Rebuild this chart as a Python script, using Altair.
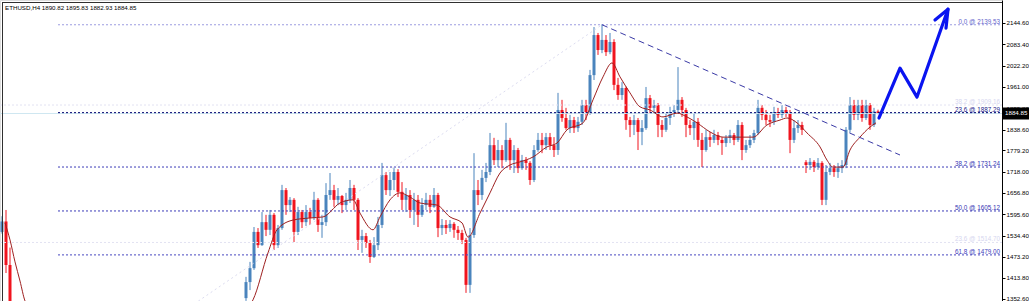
import altair as alt
import pandas as pd

SYMBOL = "ETHUSD,H4"
FONT = "Liberation Sans"

# ---- candles (H4), index = bar position ----
left_start = 0
left_close = [1575, 1450, 1330]
left_high = [1590, 1608, 1500]
left_low = [1540, 1427, 1300]

main_start = 61
main_close = [
    1401, 1441, 1545, 1507, 1573, 1551, 1594, 1507, 1556, 1665,
    1622, 1637, 1545, 1602, 1573, 1602, 1585, 1637, 1565, 1573,
    1651, 1665, 1637, 1648, 1622, 1637, 1671, 1637, 1522, 1533,
    1513, 1473, 1507, 1565, 1708, 1665, 1694, 1717, 1660, 1637,
    1651, 1608, 1637, 1594, 1622, 1637, 1617, 1651, 1556, 1565,
    1556, 1568, 1551, 1542, 1522, 1393, 1536, 1665, 1651, 1700,
    1717, 1794, 1751, 1780, 1751, 1809, 1751, 1780, 1728, 1751,
    1743, 1694, 1780, 1809, 1794, 1817, 1794, 1780, 1895, 1872,
    1843, 1866, 1843, 1861, 1909, 1889, 1995, 2110, 2067, 2096,
    2061, 2090, 1967, 1938, 1958, 1866, 1852, 1866, 1832, 1843,
    1929, 1901, 1909, 1852, 1838, 1872, 1889, 1895, 1924, 1895,
    1852, 1843, 1861, 1809, 1780, 1817, 1809, 1823, 1809, 1800,
    1815, 1823, 1809, 1852, 1780, 1794, 1809, 1829, 1901, 1881,
    1866, 1861, 1889, 1881, 1895, 1886, 1809, 1843, 1852, 1838,
    1737, 1746, 1731, 1743, 1637, 1717, 1728, 1717, 1728, 1737,
    1838, 1909, 1881, 1909, 1872, 1909, 1852, 1890.82, 1884.85]
main_high = [
    1416, 1459, 1559, 1556, 1602, 1594, 1608, 1599, 1565, 1680,
    1671, 1645, 1642, 1617, 1608, 1622, 1614, 1660, 1642, 1594,
    1685, 1714, 1680, 1671, 1651, 1657, 1694, 1680, 1642, 1551,
    1542, 1522, 1530, 1588, 1743, 1717, 1717, 1728, 1725, 1688,
    1671, 1665, 1657, 1651, 1642, 1657, 1651, 1671, 1657, 1582,
    1579, 1579, 1573, 1562, 1551, 1528, 1556, 1771, 1694, 1723,
    1743, 1829, 1815, 1809, 1794, 1858, 1815, 1794, 1786, 1766,
    1760, 1748, 1794, 1829, 1829, 1829, 1829, 1817, 1944, 1924,
    1901, 1881, 1875, 1875, 1924, 1924, 2010, 2133, 2116, 2141,
    2110, 2116, 2098, 1987, 1975, 1962, 1875, 1881, 1872, 1866,
    1961, 1938, 1924, 1915, 1866, 1886, 1904, 1909, 2018, 1932,
    1901, 1866, 1886, 1872, 1829, 1838, 1832, 1838, 1832, 1817,
    1823, 1838, 1829, 1866, 1860, 1809, 1823, 1838, 1924, 1909,
    1895, 1881, 1904, 1901, 1909, 1904, 1895, 1866, 1866, 1861,
    1751, 1757, 1751, 1757, 1748, 1737, 1743, 1737, 1743, 1751,
    1846, 1932, 1924, 1924, 1924, 1924, 1915, 1901, 1895.83]
main_low = [
    1347, 1378, 1436, 1499, 1505, 1533, 1536, 1493, 1499, 1551,
    1594, 1602, 1516, 1536, 1556, 1562, 1565, 1579, 1545, 1528,
    1562, 1637, 1617, 1622, 1599, 1608, 1628, 1608, 1493, 1485,
    1499, 1456, 1470, 1493, 1556, 1651, 1648, 1665, 1645, 1608,
    1602, 1585, 1565, 1559, 1588, 1608, 1599, 1614, 1530, 1536,
    1539, 1545, 1528, 1522, 1510, 1370, 1370, 1528, 1622, 1637,
    1688, 1708, 1737, 1731, 1728, 1746, 1723, 1714, 1714, 1723,
    1723, 1680, 1688, 1775, 1771, 1780, 1780, 1760, 1766, 1861,
    1838, 1829, 1829, 1832, 1852, 1866, 1881, 1981, 2053, 2058,
    2050, 2055, 1952, 1924, 1924, 1838, 1817, 1823, 1780, 1794,
    1838, 1886, 1886, 1817, 1817, 1832, 1852, 1875, 1886, 1875,
    1817, 1823, 1809, 1789, 1731, 1775, 1789, 1800, 1794, 1766,
    1789, 1800, 1794, 1803, 1751, 1772, 1786, 1800, 1823, 1866,
    1852, 1846, 1852, 1872, 1872, 1875, 1771, 1800, 1829, 1823,
    1714, 1723, 1717, 1723, 1622, 1622, 1708, 1703, 1700, 1714,
    1728, 1830, 1866, 1866, 1861, 1866, 1838, 1846, 1882.93]
# opens where the bar does not open at the previous close (start of a series / gap)
gap_opens = {0: 1545, 61: 1355, 201: 1745}

# ---- moving average ----
ma_idx = [0.75, 2, 3.25, 4.5, 5.75, 9.5, 19.5, 34.5, 49.5, 59.5, 62.75, 66.5, 68.75,
          72.75, 77, 80.25, 84.5, 87.75, 89.5, 92.75, 94.5, 97, 99.5, 102, 104.5,
          108.75, 112, 115, 116.5, 119.5, 122, 124.5, 127, 129.5, 132.75, 136.25,
          138.75, 141.25, 145.25, 147.75, 150.25, 152.5, 154.5, 157, 159.5, 162,
          165.25, 168.75, 171.25, 173.75, 177, 180.25, 184.5, 187.75, 191.25, 194.5,
          196.25, 198.75, 201.25, 204.5, 206.25, 207.75, 210.25, 212, 214.5, 217, 218.5]
ma_val = [1571, 1522, 1459, 1404, 1347, 1290, 1240, 1225, 1255, 1310, 1350, 1485, 1551,
          1579, 1585, 1588, 1628, 1637, 1599, 1551, 1588, 1637, 1657, 1645, 1628,
          1622, 1588, 1571, 1530, 1599, 1657, 1714, 1737, 1746, 1760, 1789,
          1800, 1838, 1858, 1924, 1990, 2030, 1990, 1944, 1904, 1895,
          1875, 1886, 1875, 1858, 1832, 1817, 1817, 1817, 1852, 1866,
          1872, 1858, 1829, 1789, 1751, 1731, 1731, 1780, 1817, 1846, 1858]

# ---- Fibonacci objects ----
fib_start = 14
fib_levels = [2139.53, 1887.29, 1731.24, 1605.12, 1479.00]
fib_pct = ["0.0", "23.6", "38.2", "50.0", "61.8"]
fib_line_col = ["#9c9ce0", "#00006e", "#3c3cb8", "#3c3cb8", "#4848c0"]
fib_text_col = ["#6464cc", "#1a1a8a", "#3434b4", "#3434b4", "#3c3cbc"]
faint_levels = [1909.16, 1514.70]
faint_pct = ["38.2", "23.6"]
diag_idx = [14, 150]
diag_val = [1070.7, 2139.53]

# ---- trend line & hand-drawn arrow ----
trend_idx = [150, 224.5]
trend_val = [2139.53, 1765.7]
arrow_idx = [219.25, 224.5, 228.75, 236.5]
arrow_val = [1872, 2015, 1932, 2184]
head_idx = [233.25, 236.5, 236.0]
head_val = [2153, 2184, 2130]

bid = 1884.85
tick_vals = [2144.60, 2083.40, 2022.20, 1961.00, 1899.80, 1838.60, 1779.20, 1718.00,
             1656.80, 1595.60, 1534.40, 1473.20, 1413.80, 1352.60]

UP = "#4a84bd"
DOWN = "#f0141e"

# ---- build candle table ----
rows = []
for start, cl, hi, lo in [(left_start, left_close, left_high, left_low),
                          (main_start, main_close, main_high, main_low)]:
    prev = None
    for j, (c, h, l) in enumerate(zip(cl, hi, lo)):
        k = start + j
        o = gap_opens.get(k, prev)
        rows.append({"i": k, "open": o, "close": c, "high": h, "low": l,
                     "col": UP if c >= o else DOWN})
        prev = c
candles = pd.DataFrame(rows)
last = rows[-1]
header = f"{SYMBOL}  {last['open']:.2f} {last['high']:.2f} {last['low']:.2f} {last['close']:.2f}"

x_scale = alt.Scale(domain=[-0.5, 250], nice=False, zero=False)
y_scale = alt.Scale(domain=[1346.7, 2210.6], nice=False, zero=False)
y_axis = alt.Axis(orient="right", values=tick_vals, format=".2f", title=None,
                  grid=False, domainColor="#000000", domainWidth=1,
                  tickColor="#000000", tickSize=3, labelFont=FONT,
                  labelFontSize=6.2, labelColor="#000000", labelPadding=1,
                  labelOverlap=False, labelBound=False, zindex=0)
X = lambda f: alt.X(f, type="quantitative", scale=x_scale, axis=None)
Y = lambda f: alt.Y(f, type="quantitative", scale=y_scale, axis=y_axis)

wick = alt.Chart(candles).mark_rule(strokeWidth=1, clip=True).encode(
    x=X("i"), y=Y("low"), y2="high:Q", color=alt.Color("col:N", scale=None))
body = alt.Chart(candles).mark_rule(strokeWidth=3, clip=True).encode(
    x=X("i"), y=Y("open"), y2="close:Q", color=alt.Color("col:N", scale=None))

ma_df = pd.DataFrame({"i": ma_idx, "v": ma_val})
ma = alt.Chart(ma_df).mark_line(color="#9e2020", strokeWidth=1, clip=True,
                                interpolate="monotone").encode(x=X("i"), y=Y("v"))

one = pd.DataFrame({"p": [bid]})
bidline = alt.Chart(one).mark_rule(color="#cfe7f1", strokeWidth=1).encode(
    x=alt.value(0), x2=alt.value(1002), y=Y("p"))

faint_df = pd.DataFrame({"v": faint_levels,
                         "t": [f"{p} @ {v:.2f}" for p, v in zip(faint_pct, faint_levels)]})
faint = alt.Chart(faint_df).mark_rule(color="#e2e2f2", strokeDash=[2, 2]).encode(
    x=alt.value(0), x2=alt.value(1002), y=Y("v"))
faint_txt = alt.Chart(faint_df).mark_text(align="right", baseline="bottom", font=FONT,
                                          fontSize=6.3, color="#d6d6ef").encode(
    x=alt.value(1000), y=Y("v"), text="t:N")

fib_df = pd.DataFrame({"v": fib_levels, "x0": [fib_start] * len(fib_levels),
                       "lc": fib_line_col, "tc": fib_text_col,
                       "t": [f"{p} @ {v:.2f}" for p, v in zip(fib_pct, fib_levels)]})
fib = alt.Chart(fib_df).mark_rule(strokeDash=[2, 2], strokeWidth=1).encode(
    x=X("x0"), x2=alt.value(1002), y=Y("v"), color=alt.Color("lc:N", scale=None))
fib_txt = alt.Chart(fib_df).mark_text(align="right", baseline="bottom", font=FONT,
                                      fontSize=6.3).encode(
    x=alt.value(1000), y=Y("v"), text="t:N", color=alt.Color("tc:N", scale=None))

diag = alt.Chart(pd.DataFrame({"i": diag_idx, "v": diag_val})).mark_line(
    color="#dcdcf0", strokeDash=[2, 3], strokeWidth=1, clip=True).encode(x=X("i"), y=Y("v"))

trend = alt.Chart(pd.DataFrame({"i": trend_idx, "v": trend_val})).mark_line(
    color="#3a3aa6", strokeDash=[6, 4], strokeWidth=1, clip=True).encode(x=X("i"), y=Y("v"))

arrow = alt.Chart(pd.DataFrame({"i": arrow_idx, "v": arrow_val, "o": range(len(arrow_idx))})).mark_line(
    color="#0a14f0", strokeWidth=3.2, strokeCap="round", strokeJoin="round").encode(
    x=X("i"), y=Y("v"), order="o:Q")
head = alt.Chart(pd.DataFrame({"i": head_idx, "v": head_val, "o": range(len(head_idx))})).mark_line(
    color="#0a14f0", strokeWidth=3.2, strokeCap="round", strokeJoin="round").encode(
    x=X("i"), y=Y("v"), order="o:Q")

pbox = alt.Chart(one).mark_rule(color="#000000", strokeWidth=12).encode(
    x=alt.value(1003), x2=alt.value(1029), y=Y("p"))
ptxt = alt.Chart(pd.DataFrame({"p": [bid], "t": [f"{bid:.2f}"]})).mark_text(
    align="left", baseline="middle", font=FONT, fontSize=6.2, color="#ffffff").encode(
    x=alt.value(1005), y=Y("p"), text="t:N")

hdr = alt.Chart(pd.DataFrame({"t": [header]})).mark_text(
    align="left", baseline="middle", font=FONT, fontSize=6.2, color="#000000").encode(
    x=alt.value(5), y=alt.value(8), text="t:N")

frame_df = pd.DataFrame({"a": [0]})
top_frame = alt.Chart(frame_df).mark_rule(color="#303030", strokeWidth=1).encode(
    x=alt.value(2), x2=alt.value(1002), y=alt.value(2.5))
left_frame = alt.Chart(frame_df).mark_rule(color="#303030", strokeWidth=1).encode(
    x=alt.value(2.5), y=alt.value(2), y2=alt.value(301))

chart = alt.layer(
    wick, body, bidline, faint, faint_txt, diag, fib, fib_txt, ma, trend,
    arrow, head, pbox, ptxt, hdr, top_frame, left_frame
).properties(
    width=1002, height=301, autosize="none",
    padding={"left": 0, "top": 0, "right": 27, "bottom": 0},
).configure_view(stroke=None).configure(background="#ffffff")

chart.save("out.html", embed_options={"renderer": "svg", "actions": False})
